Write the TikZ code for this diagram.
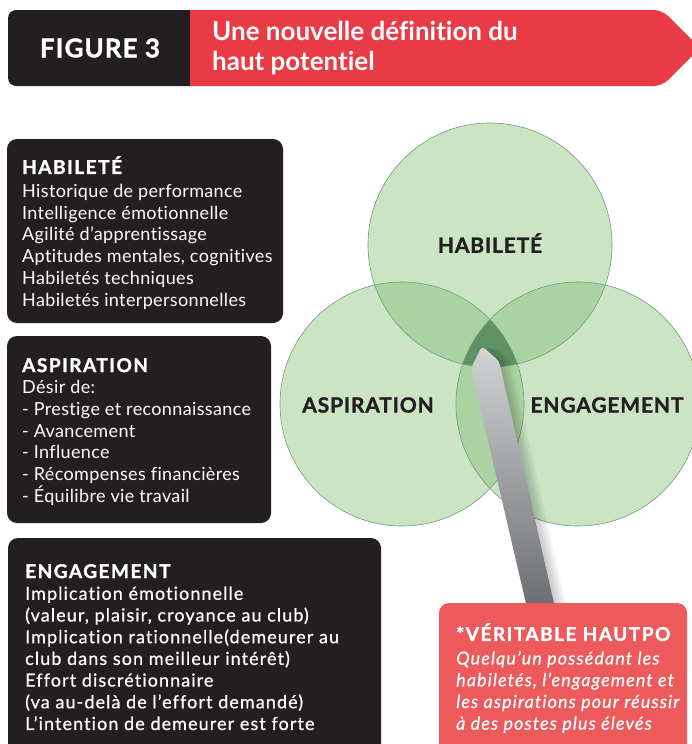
\documentclass[tikz,border=0pt]{standalone}
\usepackage{fontspec}
\setmainfont{Lato}[Ligatures=NoCommon]
\newfontfamily\bodyfont{Lato}[Ligatures=NoCommon, LetterSpace=2]
\newfontfamily\widefont{Lato}[Ligatures=NoCommon, LetterSpace=6, FakeBold=0.6]
\newfontfamily\headfont{Lato}[Ligatures=NoCommon, LetterSpace=4, FakeBold=1.2]
\newfontfamily\boxheadfont{Lato}[Ligatures=NoCommon, LetterSpace=8, FakeBold=1.5]
\newcommand\boxhead{\fontsize{19}{21.7}\selectfont\boxheadfont\bfseries}

\definecolor{figred}{HTML}{E93B45}
\definecolor{boxblack}{HTML}{231F20}
\definecolor{tipred}{HTML}{ED5A5C}
\definecolor{vennone}{HTML}{CAE4C4}
\definecolor{venntwo}{HTML}{ABD3A2}
\definecolor{vennthree}{HTML}{5F9164}
\definecolor{vennline}{HTML}{6E9E7C}
\definecolor{barlight}{HTML}{D3D4D6}
\definecolor{bardark}{HTML}{6A6B6E}

\begin{document}
\begin{tikzpicture}[x=1pt,y=-1pt,
  darkbox/.style={fill=boxblack, rounded corners=10pt},
  boxtext/.style={anchor=north west, inner sep=0pt, align=left, text=white,
    font=\fontsize{18}{21.7}\selectfont\bodyfont},
  widetext/.style={boxtext, font=\fontsize{18}{21.7}\selectfont\widefont},
  venntext/.style={font=\fontsize{21}{24}\selectfont\headfont\bfseries, text=boxblack},
  vennring/.style={draw=vennline, line width=0.6pt}]

\useasboundingbox (0,0) rectangle (691,744);

% title banner
\fill [boxblack, rounded corners=8pt] (8,10) rectangle (200,86);
\fill [figred] (190,86) -- (190,10) [rounded corners=8pt] -- (662,10) -- (700,48) -- (662,86) [sharp corners] -- cycle;
\node [text=white, font=\fontsize{26}{30}\selectfont\headfont\bfseries] (fig) at (100,48) {FIGURE 3};
\node [anchor=north west, inner sep=0pt, align=left, text=white,
  font=\fontsize{26}{30}\selectfont\bfseries] (title) at (212,21)
  {Une nouvelle définition du\\haut potentiel};

% the three circles
\coordinate (hab) at (490,245);
\coordinate (asp) at (402,404);
\coordinate (eng) at (578,404);

\fill [vennone] (hab) circle [radius=122pt];
\fill [vennone] (asp) circle [radius=122pt];
\fill [vennone] (eng) circle [radius=122pt];
\begin{scope}
  \clip (hab) circle [radius=122pt];
  \fill [venntwo] (asp) circle [radius=122pt];
  \fill [venntwo] (eng) circle [radius=122pt];
\end{scope}
\begin{scope}
  \clip (asp) circle [radius=122pt];
  \fill [venntwo] (eng) circle [radius=122pt];
\end{scope}
\begin{scope}
  \clip (hab) circle [radius=122pt];
  \clip (asp) circle [radius=122pt];
  \fill [vennthree] (eng) circle [radius=122pt];
\end{scope}
\draw [vennring] (hab) circle [radius=122pt];
\draw [vennring] (asp) circle [radius=122pt];
\draw [vennring] (eng) circle [radius=122pt];

\node [venntext] (habl) at (490,243) {HABILETÉ};
\node [venntext] (aspl) at (368,405) {ASPIRATION};
\node [venntext] (engl) at (607,405) {ENGAGEMENT};

% pointer, with a soft shadow on its right
\foreach \s in {2,4,...,12}
  \fill [black, opacity=0.035, rounded corners=4pt, xshift=\s pt]
    (471,368) -- (482,346) -- (499,361) -- (556,612) -- (528,612) -- cycle;
\shade [top color=barlight, bottom color=bardark, rounded corners=4pt]
  (471,368) -- (482,346) -- (499,361) -- (556,612) -- (528,612) -- cycle;

% side boxes
\fill [darkbox] (7,139) rectangle (283,323);
\node [boxtext] (habtxt) at (22,156) {{\boxhead HABILETÉ}\\[2pt]
  Historique de performance\\
  Intelligence émotionnelle\\
  Agilité d’apprentissage\\
  Aptitudes mentales, cognitives\\
  Habiletés techniques\\
  Habiletés interpersonnelles};

\fill [darkbox] (7,336) rectangle (271,523);
\node [boxtext] (asptxt) at (22,358) {{\boxhead ASPIRATION}\\
  Désir de:\\
  - Prestige et reconnaissance\\
  - Avancement\\
  - Influence\\
  - Récompenses financières\\
  - Équilibre vie travail};

\fill [darkbox] (8,538) rectangle (381,760);
\node [widetext] (engtxt) at (25,564) {{\boxhead ENGAGEMENT}\\
  Implication émotionnelle\\
  (valeur, plaisir, croyance au club)\\
  Implication rationnelle(demeurer au\\
  club dans son meilleur intérêt)\\
  Effort discrétionnaire\\
  (va au-delà de l’effort demandé)\\
  L’intention de demeurer est forte};

% definition box
\fill [tipred, rounded corners=10pt] (439,603) rectangle (687,760);
\node [widetext] (tiptxt) at (456,623) {{\boxhead *VÉRITABLE HAUTPO}\\[2pt]
  \itshape Quelqu’un possédant les\\
  \itshape habiletés, l’engagement et\\
  \itshape les aspirations pour réussir\\
  \itshape à des postes plus élevés};

\end{tikzpicture}
\end{document}
